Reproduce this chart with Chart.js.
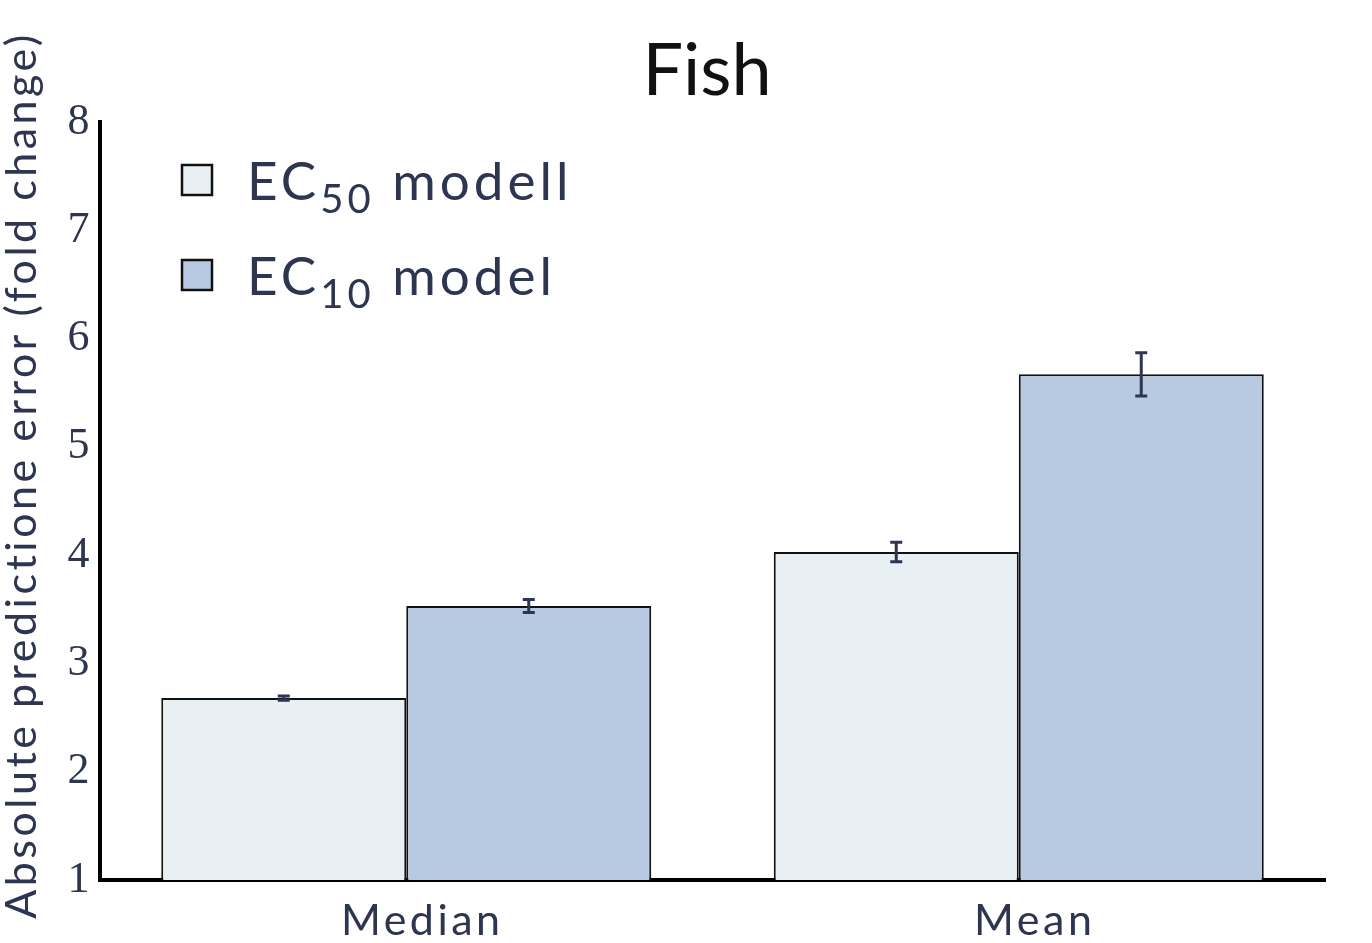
<!DOCTYPE html>
<html><head><meta charset="utf-8">
<script src="https://cdn.jsdelivr.net/npm/chart.js@4"></script>
<style>html,body{margin:0;padding:0;background:#fff}#wrap{width:1372px;height:943px}</style>
</head><body><div id="wrap"><canvas id="c" width="1372" height="943"></canvas></div>
<script>
const categories = ['Median', 'Mean'];
const seriesLabels = ['EC50 modell', 'EC10 model'];
const ec50Values = [2.68, 4.03];
const ec10Values = [3.53, 5.67];
const ec50Errors = [0.02, 0.09];
const ec10Errors = [0.06, 0.2];
const yTicks = [1, 2, 3, 4, 5, 6, 7, 8];
const titleText = 'Fish';
const yTitle = 'Absolute predictione error (fold change)';

const SANS = 'Lato, "DejaVu Sans", sans-serif';
const TEXT = '#2d3550';
const fills = ['#e8f0f4', '#b7cae2'];

const spacing = {
  id: 'spacing',
  beforeDraw(chart) { chart.ctx.letterSpacing = '3.5px'; },
  beforeDatasetsDraw(chart) { chart.ctx.letterSpacing = '0px'; }
};

const errorBars = {
  id: 'errorBars',
  afterDatasetsDraw(chart) {
    const ctx = chart.ctx, ys = chart.scales.y;
    const errs = [ec50Errors, ec10Errors];
    chart.data.datasets.forEach((ds, i) => {
      const meta = chart.getDatasetMeta(i);
      meta.data.forEach((el, j) => {
        const v = ds.data[j], e = errs[i][j];
        const y1 = ys.getPixelForValue(v + e), y2 = ys.getPixelForValue(v - e);
        ctx.save();
        ctx.strokeStyle = TEXT; ctx.lineWidth = 3;
        ctx.beginPath();
        ctx.moveTo(el.x, y1); ctx.lineTo(el.x, y2);
        ctx.moveTo(el.x - 6, y1); ctx.lineTo(el.x + 6, y1);
        ctx.moveTo(el.x - 6, y2); ctx.lineTo(el.x + 6, y2);
        ctx.stroke();
        ctx.restore();
      });
    });
  }
};

const texts = {
  id: 'texts',
  afterDraw(chart) {
    const ctx = chart.ctx;
    ctx.save();
    ctx.letterSpacing = '0px';
    ctx.fillStyle = '#111'; ctx.font = '72px ' + SANS;
    ctx.textAlign = 'center'; ctx.textBaseline = 'alphabetic';
    ctx.fillText(titleText, 707, 95);
    ctx.restore();
    ctx.save();
    ctx.translate(22, 475);
    ctx.rotate(-Math.PI / 2);
    ctx.letterSpacing = '3.5px';
    ctx.fillStyle = TEXT; ctx.font = '43px ' + SANS;
    ctx.textAlign = 'center'; ctx.textBaseline = 'middle';
    ctx.fillText(yTitle, 0, 0);
    ctx.restore();
    chart.data.datasets.forEach((ds, i) => {
      const bx = 182, by = 165 + i * 95;
      ctx.save();
      ctx.fillStyle = ds.backgroundColor; ctx.strokeStyle = '#111'; ctx.lineWidth = 2.5;
      ctx.fillRect(bx, by, 30, 30); ctx.strokeRect(bx, by, 30, 30);
      const m = /^(\D+)(\d+)(.*)$/.exec(ds.label);
      const base = by + 35;
      let x = 247;
      ctx.letterSpacing = '4px';
      ctx.fillStyle = TEXT; ctx.textBaseline = 'alphabetic'; ctx.textAlign = 'left';
      ctx.font = '53px ' + SANS;
      ctx.fillText(m[1], x, base); x += ctx.measureText(m[1]).width;
      ctx.font = '40px ' + SANS;
      ctx.fillText(m[2], x, base + 13); x += ctx.measureText(m[2]).width;
      ctx.font = '53px ' + SANS;
      ctx.fillText(m[3], x, base);
      ctx.restore();
    });
  }
};

new Chart(document.getElementById('c'), {
  type: 'bar',
  data: {
    labels: categories,
    datasets: [
      { label: seriesLabels[0], data: ec50Values, backgroundColor: fills[0], borderColor: '#111', borderWidth: 2, base: 1, categoryPercentage: 0.8, barPercentage: 1.0 },
      { label: seriesLabels[1], data: ec10Values, backgroundColor: fills[1], borderColor: '#111', borderWidth: 2, base: 1, categoryPercentage: 0.8, barPercentage: 1.0 }
    ]
  },
  options: {
    responsive: false, animation: false,
    devicePixelRatio: 1,
    layout: { padding: { left: 0, right: 47, top: 122, bottom: 0 } },
    plugins: {
      legend: { display: false },
      tooltip: { enabled: false },
      title: { display: false }
    },
    scales: {
      x: {
        grid: { display: false, drawTicks: false },
        border: { display: true, width: 4, color: '#000' },
        ticks: { color: TEXT, font: { family: SANS, size: 43 }, padding: 15, labelOffset: 16 },
        afterFit(s) { s.height = 63; }
      },
      y: {
        min: 1, max: 8,
        afterBuildTicks(s) { s.ticks = yTicks.map(v => ({ value: v })); },
        grid: { display: false, drawTicks: false },
        border: { display: true, width: 4, color: '#000' },
        ticks: { color: TEXT, font: { family: '"Liberation Serif", serif', size: 44 }, padding: 7 },
        afterFit(s) { s.width = 100; }
      }
    }
  },
  plugins: [spacing, errorBars, texts]
});
</script></body></html>
